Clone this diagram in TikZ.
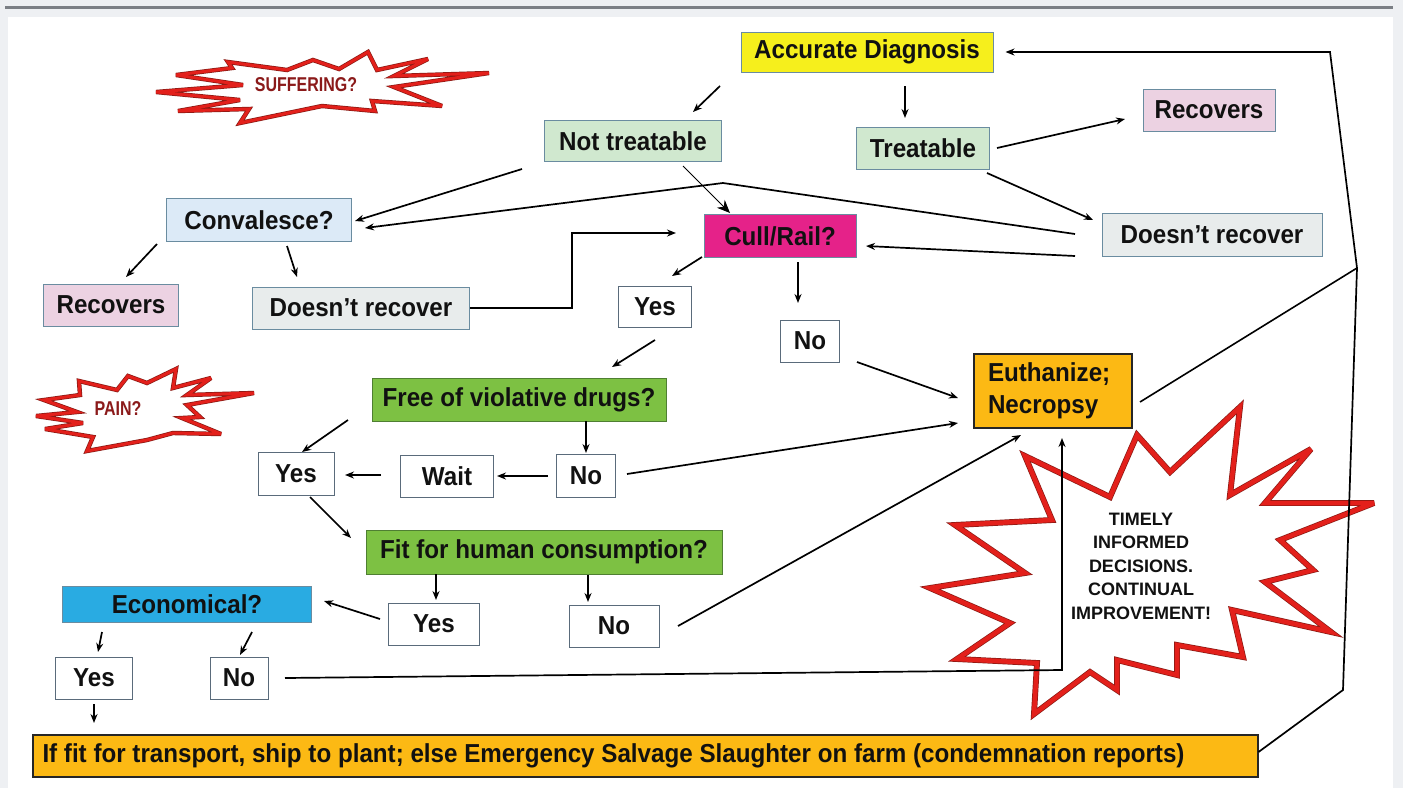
\documentclass[tikz,border=0pt]{standalone}
\usepackage{fontspec}
\setmainfont{Liberation Sans}
\newfontfamily\nar{Liberation Sans}[FakeStretch=0.93]
\newfontfamily\cond{Liberation Sans}[FakeStretch=0.8]
\usetikzlibrary{arrows.meta,calc}
\definecolor{bggray}{HTML}{EEF0F3}
\definecolor{topline}{HTML}{7B7F85}
\definecolor{txt}{HTML}{111111}
\definecolor{yel}{HTML}{F6EF1C}
\definecolor{lgreen}{HTML}{D0E8CF}
\definecolor{pinkc}{HTML}{ECD2E2}
\definecolor{lblue}{HTML}{DCEAF7}
\definecolor{lgrayc}{HTML}{E8ECEC}
\definecolor{magc}{HTML}{E52289}
\definecolor{greenc}{HTML}{7DC143}
\definecolor{bluec}{HTML}{29ABE2}
\definecolor{orng}{HTML}{FCB914}
\definecolor{edge}{HTML}{6A8CA0}
\definecolor{wedge}{HTML}{5A6B7B}
\definecolor{gedge}{HTML}{4F7F32}
\definecolor{burstred}{HTML}{E3201B}
\definecolor{burstdark}{HTML}{8A1A14}
\definecolor{sufftxt}{HTML}{8B1A1A}
\begin{document}
\begin{tikzpicture}[x=1pt,y=-1pt,
  base/.style={rectangle, inner sep=0pt, font=\nar\bfseries\fontsize{26}{28}\selectfont, text=txt, line width=1pt},
  pastel/.style={base, draw=edge, fill=#1},
  gbox/.style={base, draw=gedge, fill=#1},
  wbox/.style={base, draw=wedge, fill=white, line width=1pt},
  obox/.style={base, draw=black!85, fill=orng, line width=2pt},
  sz/.style 2 args={minimum width=#1pt, minimum height=#2pt},
  arr/.style={-{Stealth[length=9pt,width=7pt]}, line width=1.7pt, black, line join=miter},
  ln/.style={line width=1.6pt, black},
  burst/.style={fill=white, draw=burstdark, double=burstred, double distance=#1, line width=0.7pt, miter limit=5, line join=miter}
]
\useasboundingbox (0,0) rectangle (1403,788);
% background
\fill[bggray] (0,0) rectangle (1403,788);
\fill[white] (8,17) rectangle (1393,788);
\draw[topline, line width=3pt] (5,7) -- (1393,7);

% starbursts
\draw[burst=3pt] (156,92) -- (243,85) -- (176,75) -- (232,68) -- (228,62) -- (287,70) -- (313,60) -- (339,69) -- (368,52) -- (377,70) -- (428,59) -- (394,76) -- (489,73) -- (394,87) -- (442,106) -- (372,101) -- (375,111) -- (322,106) -- (240,123) -- (249,109) -- (178,111) -- (240,100) -- cycle;
\node[font=\cond\bfseries\fontsize{20}{22}\selectfont, text=sufftxt] (suff) at (306,85) {SUFFERING?};

\draw[burst=3pt] (36,416) -- (77,412) -- (44,400) -- (80,395) -- (79,381) -- (117,390) -- (128,376) -- (147,383) -- (176,369) -- (173,388) -- (211,378) -- (187,395) -- (254,393) -- (187,405) -- (200,417) -- (182,418) -- (221,434) -- (173,433) -- (147,440) -- (87,451) -- (93,437) -- (45,429) -- (83,423) -- cycle;
\node[font=\cond\bfseries\fontsize{20}{22}\selectfont, text=sufftxt] (pain) at (118,409) {PAIN?};

\draw[burst=4.5pt] (1025,456) -- (1110,497) -- (1137,435) -- (1170,472) -- (1240,407) -- (1230,495) -- (1311,449) -- (1265,503) -- (1374,503) -- (1280,540) -- (1313,570) -- (1265,582) -- (1331,632) -- (1232,610) -- (1243,657) -- (1177,645) -- (1177,675) -- (1117,660) -- (1117,690) -- (1090,672) -- (1034,714) -- (1037,663) -- (957,659) -- (1010,623) -- (930,588) -- (1025,573) -- (955,525) -- (1052,520) -- cycle;
\node[font=\bfseries\fontsize{18}{23.5}\selectfont, text=txt, align=center] (tidm) at (1141,566) {TIMELY\\INFORMED\\DECISIONS.\\CONTINUAL\\IMPROVEMENT!};

% nodes
\node[pastel=yel, sz={252}{40}] (diag) at (867,52) {Accurate Diagnosis};
\node[pastel=lgreen, sz={177}{41}] (nt) at (633,141) {Not treatable};
\node[pastel=lgreen, sz={133}{42}] (tr) at (923,148) {Treatable};
\node[pastel=pinkc, sz={132}{42}] (rec1) at (1209,110) {Recovers};
\node[pastel=lgrayc, sz={220}{43}] (dnr1) at (1212,235) {Doesn’t recover};
\node[pastel=lblue, sz={185}{43}] (conv) at (259,220) {Convalesce?};
\node[pastel=magc, sz={152}{43}] (cull) at (780,236) {Cull/Rail?};
\node[pastel=pinkc, sz={135}{42}] (rec2) at (111,305) {Recovers};
\node[pastel=lgrayc, sz={217}{42}] (dnr2) at (361,308) {Doesn’t recover};
\node[wbox, sz={73}{41}] (yes1) at (655,307) {Yes};
\node[wbox, sz={59}{42}] (no1) at (810,341) {No};
\node[obox, sz={158}{74}, text width=130pt, align=left, font=\nar\bfseries\fontsize{26}{32}\selectfont] (euth) at (1053,391) {Euthanize;\\Necropsy};
\node[gbox=greenc, sz={294}{43}] (free) at (519,400) {Free of violative drugs?};
\node[wbox, sz={76}{43}] (yes2) at (296,474) {Yes};
\node[wbox, sz={93}{42}] (wait) at (447,476) {Wait};
\node[wbox, sz={59}{43}] (no2) at (586,476) {No};
\node[gbox=greenc, sz={356}{44}] (fit) at (544,552) {Fit for human consumption?};
\node[wbox, sz={91}{42}] (yes3) at (434,624) {Yes};
\node[wbox, sz={90}{42}] (no3) at (614,626) {No};
\node[pastel=bluec, sz={249}{36}] (econ) at (187,604) {Economical?};
\node[wbox, sz={77}{42}] (yes4) at (94,678) {Yes};
\node[wbox, sz={58}{42}] (no4) at (239,678) {No};
\node[obox, sz={1225}{42}] (bot) at (645,756) {\makebox[1205pt][l]{If fit for transport, ship to plant; else Emergency Salvage Slaughter on farm (condemnation reports)}};

% bend coordinates
\coordinate (t1) at (723,183);
\coordinate (b1) at (1062,670);
\coordinate (r1) at (1343,690);
\coordinate (r2) at (1357,268);
\coordinate (r3) at (1330,52);

% connectors
\draw[arr] ($(diag)+(-147,34)$) -- ($(nt)+(60,-29)$);
\draw[arr] ($(diag)+(38,34)$) -- ($(tr)+(-18,-30)$);
\draw[arr] ($(tr)+(74,0)$) -- ($(rec1)+(-84,9)$);
\draw[arr] ($(tr)+(64,25)$) -- ($(dnr1)+(-119,-15)$);
\draw[arr] ($(nt)+(-111,28)$) -- ($(conv)+(96,1)$);
\draw[arr] ($(dnr1)+(-137,-1)$) -- (t1) -- ($(conv)+(106,8)$);
\draw[arr] ($(dnr1)+(-137,21)$) -- ($(cull)+(86,10)$);
\draw[-{Stealth[length=13pt,width=11pt]}, line width=0.8pt] ($(nt)+(50,25)$) -- ($(cull)+(-50,-23)$);
\draw[arr] ($(conv)+(-102,24)$) -- ($(rec2)+(15,-28)$);
\draw[arr] ($(conv)+(28,26)$) -- ($(dnr2)+(-64,-31)$);
\draw[arr] (dnr2.east) -- ++(102,0) |- ($(cull)+(-104,-3)$);
\draw[arr] ($(cull)+(-78,21)$) -- ($(yes1)+(17,-31)$);
\draw[arr] ($(cull)+(18,26)$) -- ($(no1)+(-12,-38)$);
\draw[arr] ($(no1)+(47,21)$) -- ($(euth)+(-95,7)$);
\draw[arr] ($(yes1)+(0,33)$) -- ($(free)+(93,-33)$);
\draw[arr] ($(free)+(-171,20)$) -- ($(yes2)+(6,-22)$);
\draw[arr] ($(free)+(67,21)$) -- ($(no2)+(0,-23)$);
\draw[arr] ($(no2)+(-38,0)$) -- ($(wait)+(50,0)$);
\draw[arr] ($(wait)+(-66,-1)$) -- ($(yes2)+(49,1)$);
\draw[arr] ($(no2)+(41,-2)$) -- ($(euth)+(-95,32)$);
\draw[arr] ($(yes2)+(14,23)$) -- ($(fit)+(-193,-14)$);
\draw[arr] ($(fit)+(-108,22)$) -- ($(yes3)+(2,-24)$);
\draw[arr] ($(fit)+(44,23)$) -- ($(no3)+(-26,-24)$);
\draw[arr] ($(yes3)+(-54,-5)$) -- ($(econ)+(137,-3)$);
\draw[arr] ($(no3)+(64,0)$) -- ($(euth)+(-32,44)$);
\draw[arr] ($(econ)+(-85,28)$) -- ($(yes4)+(4,-26)$);
\draw[arr] ($(econ)+(65,28)$) -- ($(no4)+(1,-23)$);
\draw[arr] ($(yes4)+(0,26)$) -- ($(bot)+(-551,-33)$);
\draw[arr] ($(no4)+(46,0)$) -- (b1) -- ($(euth)+(9,47)$);
\draw[arr] ($(bot.east)+(0,-4)$) -- (r1) -- (r2) -- (r3) -- ($(diag.east)+(12,0)$);
\draw[ln] ($(euth)+(87,11)$) -- (r2);
\end{tikzpicture}
\end{document}
